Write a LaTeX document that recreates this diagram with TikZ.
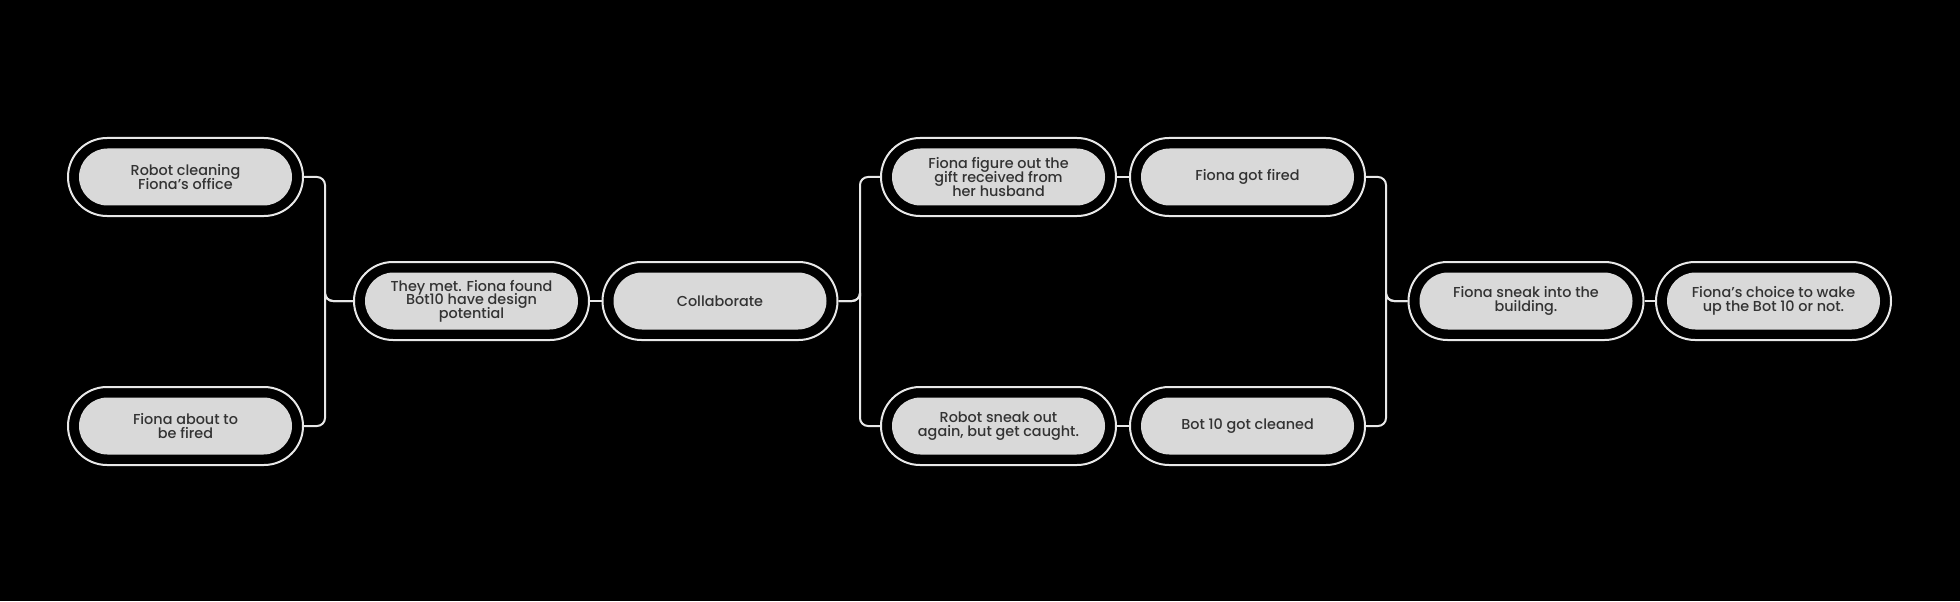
\documentclass[tikz,border=0pt]{standalone}
\usepackage{fontspec}
\IfFontExistsTF{Poppins Medium}{\setmainfont{Poppins Medium}}{\setmainfont{Poppins}}
\usetikzlibrary{shapes.misc}
\definecolor{ringline}{HTML}{E8E8E8}
\definecolor{pillfill}{HTML}{D9D9D9}
\definecolor{pilltext}{HTML}{333333}
\newcommand\pillfont{\fontsize{7.2}{6.8}\selectfont\lineskiplimit=-10pt\relax\lineskip=0pt\relax}
\tikzset{
  ring/.style={rounded rectangle, draw=ringline, line width=1pt, fill=black,
    minimum width=117.5pt, minimum height=39pt, inner sep=0pt},
  pill/.style={rounded rectangle, fill=pillfill, text=pilltext, align=center,
    minimum width=106.5pt, minimum height=28.5pt, inner sep=0pt,
    font=\pillfont},
  link/.style={draw=ringline, line width=1pt, rounded corners=4pt}
}
\begin{document}
\begin{tikzpicture}[x=0.5pt,y=0.5pt]
\fill[black] (0,0) rectangle (1960,601);
% story beats: outer ring, then the grey pill on top
\foreach \name/\x/\y/\txt in {
  robot/185.5/424/{Robot cleaning\\Fiona’s office},
  about/185.5/175/{Fiona about to\\be fired},
  met/471.5/300/{They met. Fiona found\\Bot10 have design\\potential},
  collab/720/300/{Collaborate},
  figure/998.5/424/{Fiona figure out the\\gift received from\\her husband},
  fired/1247.5/424/{Fiona got fired},
  sneakout/998.5/175/{Robot sneak out\\again, but get caught.},
  cleaned/1247.5/175/{Bot 10 got cleaned},
  sneakin/1526/300/{Fiona sneak into the\\building.},
  choice/1773.5/300/{Fiona’s choice to wake\\up the Bot 10 or not.}}
{
  \node[ring] (\name) at (\x,\y) {};
  \node[pill] (\name-in) at (\name) {\txt};
}
\coordinate (jl) at (325,300);
\coordinate (jm) at (860,300);
\coordinate (jr) at (1386,300);
\draw[link] (robot.east) -| (jl) |- (met.west);
\draw[link] (about.east) -| (jl) |- (met.west);
\draw[link] (met.east) -- (collab.west);
\draw[link] (collab.east) -| (jm) |- (figure.west);
\draw[link] (collab.east) -| (jm) |- (sneakout.west);
\draw[link] (figure.east) -- (fired.west);
\draw[link] (sneakout.east) -- (cleaned.west);
\draw[link] (fired.east) -| (jr) |- (sneakin.west);
\draw[link] (cleaned.east) -| (jr) |- (sneakin.west);
\draw[link] (sneakin.east) -- (choice.west);
\end{tikzpicture}
\end{document}
